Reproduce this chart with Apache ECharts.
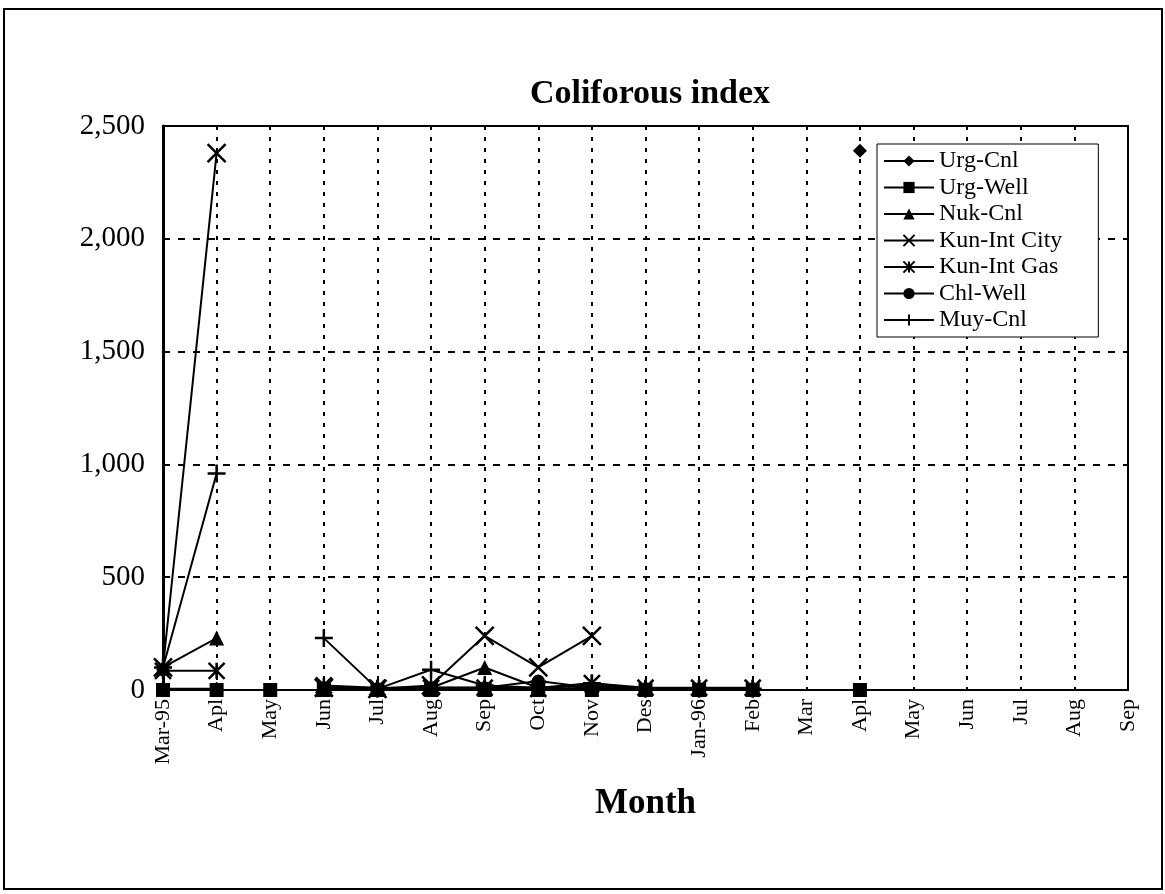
<!DOCTYPE html>
<html>
<head>
<meta charset="utf-8">
<script src="https://cdn.jsdelivr.net/npm/echarts@6/dist/echarts.min.js"></script>
<style>
html,body{margin:0;padding:0;background:#fff;}
#chart{width:1165px;height:894px;}
</style>
</head>
<body>
<div id="chart"></div>
<script>
const months = ["Mar-95","Apl","May","Jun","Jul","Aug","Sep","Oct","Nov","Des","Jan-96","Feb","Mar","Apl","May","Jun","Jul","Aug","Sep"];
const yTicks = [0, 500, 1000, 1500, 2000, 2500];
const urgCnl     = [5, 5, null, 10, 5, 10, 10, 5, 10, 5, 5, 5, null, 2390, null, null, null, null, null];
const urgWell    = [0, 0, 0, 0, 0, 0, 0, 0, 0, 0, 0, 0, null, 0, null, null, null, null, null];
const nukCnl     = [100, 230, null, 10, 5, 10, 100, 10, 20, 5, 5, 5, null, null, null, null, null, null, null];
const kunIntCity = [100, 2380, null, 10, 5, 20, 240, 100, 240, null, null, null, null, null, null, null, null, null, null];
const kunIntGas  = [85, 85, null, 20, 10, 10, 10, 5, 30, 10, 10, 10, null, null, null, null, null, null, null];
const chlWell    = [90, null, null, 10, 5, 10, 10, 40, 10, 5, 5, 5, null, null, null, null, null, null, null];
const muyCnl     = [100, 960, null, 230, 5, 90, 20, 10, 30, 5, 5, 5, null, null, null, null, null, null, null];

const serif = '"Liberation Serif","Times New Roman",serif';
const X_PATH = 'path://M0,0L10,10M0,10L10,0';
const AST_PATH = 'path://M0,0L10,10M0,10L10,0M5,0L5,10';
const PLUS_PATH = 'path://M5,0L5,10M0,5L10,5';

function mk(name, data, symbol, size, stroked) {
  return {
    name: name, type: 'line', data: data, symbol: symbol, symbolSize: size,
    showAllSymbol: true, connectNulls: false,
    lineStyle: {color: '#000', width: 2},
    itemStyle: {color: '#000', borderColor: '#000', borderWidth: stroked ? 2.5 : 0},
    emphasis: {disabled: true},
    animation: false
  };
}

const chart = echarts.init(document.getElementById('chart'), null, {renderer: 'canvas'});
chart.setOption({
  backgroundColor: '#fff',
  animation: false,
  graphic: [{
    type: 'rect', shape: {x: 4, y: 9, width: 1158, height: 880},
    style: {fill: 'none', stroke: '#000', lineWidth: 2}, silent: true, z: -1
  }, {
    type: 'text', x: 650, y: 94, silent: true,
    style: {text: 'Coliforous index', fontFamily: serif, fontWeight: 'bold', fontSize: 34,
      fill: '#000', textAlign: 'center', textVerticalAlign: 'middle'}
  }],
  legend: {
    orient: 'vertical', left: 877, top: 144,
    itemWidth: 50, itemHeight: 14, itemGap: 2.5,
    padding: [5, 36, 5, 6],
    borderColor: '#000', borderWidth: 1, backgroundColor: '#fff',
    textStyle: {fontFamily: serif, fontSize: 24, color: '#000'},
    data: ['Urg-Cnl','Urg-Well','Nuk-Cnl','Kun-Int City','Kun-Int Gas','Chl-Well','Muy-Cnl']
  },
  grid: {left: 163, right: 37, top: 126, bottom: 204, show: true, borderColor: '#000', borderWidth: 2},
  xAxis: {
    type: 'category', data: months, boundaryGap: false,
    name: 'Month', nameLocation: 'middle', nameGap: 96,
    nameTextStyle: {fontFamily: serif, fontWeight: 'bold', fontSize: 35, color: '#000'},
    axisLine: {lineStyle: {color: '#000', width: 2}},
    axisTick: {show: false},
    axisLabel: {rotate: 90, interval: 0, margin: 9, fontFamily: serif, fontSize: 22, color: '#000'},
    splitLine: {show: true, interval: 0, lineStyle: {color: '#000', width: 2, type: [4, 7]}}
  },
  yAxis: {
    type: 'value', min: 0, max: 2500, interval: 500,
    axisLine: {show: true, lineStyle: {color: '#000', width: 3}},
    axisTick: {show: false},
    axisLabel: {margin: 18, fontFamily: serif, fontSize: 29, color: '#000',
      formatter: v => yTicks.includes(v) ? v.toLocaleString('en-US') : ''},
    splitLine: {show: true, lineStyle: {color: '#000', width: 2, type: [7, 8]}}
  },
  series: [
    mk('Urg-Cnl', urgCnl, 'diamond', 14, false),
    mk('Urg-Well', urgWell, 'rect', 14, false),
    mk('Nuk-Cnl', nukCnl, 'triangle', 15, false),
    mk('Kun-Int City', kunIntCity, X_PATH, 18, true),
    mk('Kun-Int Gas', kunIntGas, AST_PATH, 16, true),
    mk('Chl-Well', chlWell, 'circle', 13, false),
    mk('Muy-Cnl', muyCnl, PLUS_PATH, 18, true)
  ]
});
</script>
</body>
</html>
